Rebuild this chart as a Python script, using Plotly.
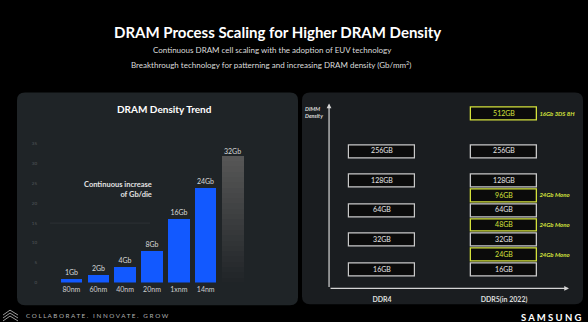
import plotly.graph_objects as go

W, H = 588, 322

# ---- Left chart data: DRAM density trend ----
nodes = ["80nm", "60nm", "40nm", "20nm", "1xnm", "14nm", ""]
density_gb = [1, 2, 4, 8, 16, 24, 32]
density_labels = ["1Gb", "2Gb", "4Gb", "8Gb", "16Gb", "24Gb", "32Gb"]
y_ticks = [0, 5, 10, 15, 20, 25, 30, 35]

# ---- Right chart data: DIMM density ----
ddr4_labels = ["16GB", "32GB", "64GB", "128GB", "256GB"]
ddr4_levels = [0, 1, 2, 3, 4]
ddr5_labels = ["16GB", "24GB", "32GB", "48GB", "64GB", "96GB", "128GB", "256GB", "512GB"]
ddr5_levels = [0, 0.5, 1, 1.5, 2, 2.5, 3, 4, 5.27]
ddr5_new = [False, True, False, True, False, True, False, False, True]
ddr5_notes = ["", "24Gb Mono", "", "24Gb Mono", "", "24Gb Mono", "", "", "16Gb 3DS 8H"]
generations = ["DDR4", "DDR5(in 2022)"]

FONT = "Lato"
BLUE = "#1259ff"
YEL = "#d4e23c"
WHITE_BOX = "#c9c9c9"

def px(x):
    return x / W

def py(y):
    return 1 - y / H

def rounded_rect(x0, y0, x1, y1, r=8):
    rx, ry = r / W, r / H
    X0, X1 = px(x0), px(x1)
    Y0, Y1 = py(y1), py(y0)  # bottom, top in paper
    return (f"M {X0+rx},{Y1} L {X1-rx},{Y1} Q {X1},{Y1} {X1},{Y1-ry} "
            f"L {X1},{Y0+ry} Q {X1},{Y0} {X1-rx},{Y0} L {X0+rx},{Y0} "
            f"Q {X0},{Y0} {X0},{Y0+ry} L {X0},{Y1-ry} Q {X0},{Y1} {X0+rx},{Y1} Z")

fig = go.Figure()

# blue bars
n_blue = 6
fig.add_trace(go.Bar(
    x=list(range(n_blue)), y=density_gb[:n_blue], width=0.8,
    marker=dict(color=BLUE, line=dict(width=0), cornerradius=2),
    text=density_labels[:n_blue], textposition="outside", cliponaxis=False,
    textfont=dict(family=FONT, size=7, color="#d8d8d8"),
    xaxis="x", yaxis="y", showlegend=False, hoverinfo="skip"))

# gradient gray bar (future 32Gb) drawn as stacked segments of one value
seg_n = 24
v = density_gb[6]
top_rgb = (88, 88, 88)
bot_rgb = (32, 36, 39)
seg_h = v / seg_n
bases, heights, colors = [], [], []
for i in range(seg_n):
    t = (i + 0.5) / seg_n
    c = tuple(int(bot_rgb[k] + (top_rgb[k] - bot_rgb[k]) * t) for k in range(3))
    bases.append(i * seg_h)
    heights.append(seg_h)
    colors.append(f"rgb{c}")
fig.add_trace(go.Bar(
    x=[6] * seg_n, y=heights, base=bases, width=0.82,
    marker=dict(color=colors, line=dict(width=0)),
    xaxis="x", yaxis="y", showlegend=False, hoverinfo="skip"))
fig.add_trace(go.Scatter(
    x=[6], y=[v], mode="text", text=[density_labels[6]], textposition="top center",
    textfont=dict(family=FONT, size=7, color="#d8d8d8"), cliponaxis=False,
    xaxis="x", yaxis="y", showlegend=False, hoverinfo="skip"))

# ---- DIMM boxes ----
BOX_H = 0.43
BOX_W = 0.54
fig.add_trace(go.Bar(
    x=[0] * len(ddr4_levels), y=[BOX_H] * len(ddr4_levels),
    base=[l - BOX_H / 2 for l in ddr4_levels], width=BOX_W,
    marker=dict(color="#0b0b0b", line=dict(color=WHITE_BOX, width=1.2)),
    xaxis="x2", yaxis="y2", showlegend=False, hoverinfo="skip"))
fig.add_trace(go.Bar(
    x=[1] * len(ddr5_levels), y=[BOX_H] * len(ddr5_levels),
    base=[l - BOX_H / 2 for l in ddr5_levels], width=BOX_W,
    marker=dict(color="#0b0b0b",
                line=dict(color=[YEL if n else WHITE_BOX for n in ddr5_new], width=1.3)),
    xaxis="x2", yaxis="y2", showlegend=False, hoverinfo="skip"))
fig.add_trace(go.Scatter(
    x=[0] * len(ddr4_levels), y=ddr4_levels, mode="text", text=ddr4_labels,
    textfont=dict(family=FONT, size=7, color="#e6e6e6"),
    xaxis="x2", yaxis="y2", showlegend=False, hoverinfo="skip"))
fig.add_trace(go.Scatter(
    x=[1] * len(ddr5_levels), y=ddr5_levels, mode="text", text=ddr5_labels,
    textfont=dict(family=FONT, size=7, color=[YEL if n else "#e6e6e6" for n in ddr5_new]),
    xaxis="x2", yaxis="y2", showlegend=False, hoverinfo="skip"))
note_lv = [l for l, n in zip(ddr5_levels, ddr5_notes) if n]
note_tx = [f"<i><b>{n}</b></i>" for n in ddr5_notes if n]
fig.add_trace(go.Scatter(
    x=[1.29] * len(note_lv), y=note_lv, mode="text", text=note_tx,
    textposition="middle right", cliponaxis=False,
    textfont=dict(family=FONT, size=6, color=YEL),
    xaxis="x2", yaxis="y2", showlegend=False, hoverinfo="skip"))

shapes = [
    dict(type="path", path=rounded_rect(17, 92, 298, 308), xref="paper", yref="paper",
         fillcolor="#1f2427", line=dict(width=0), layer="below"),
    dict(type="path", path=rounded_rect(302, 92, 583, 307), xref="paper", yref="paper",
         fillcolor="#1a1d20", line=dict(width=0), layer="below"),
    dict(type="line", xref="paper", yref="y", x0=px(50), x1=px(150), y0=15, y1=15,
         line=dict(color="#2b3135", width=1), layer="below"),
]
# small footer logo (stacked chevrons)
for dy in (0, 3, 6):
    shapes.append(dict(type="path", xref="paper", yref="paper",
                       path=f"M {px(3)},{py(318+dy)} L {px(10)},{py(313+dy)} L {px(18)},{py(318+dy)}",
                       line=dict(color="#9a9a9a", width=1)))

AX_X0, AX_X1 = -0.434, 1.533
AX_Y0, AX_Y1 = -0.633, 5.633

def note(text, x, y, size, color, xanchor="center", yanchor="middle", align="center"):
    return dict(text=text, x=px(x), y=py(y), xref="paper", yref="paper",
                xanchor=xanchor, yanchor=yanchor, align=align, showarrow=False,
                font=dict(family=FONT, size=size, color=color))

annotations = [
    note("<b>DRAM Process Scaling for Higher DRAM Density</b>", 277, 30, 15, "#ffffff"),
    note("Continuous DRAM cell scaling with the adoption of EUV technology", 272, 49, 8, "#dcdcdc"),
    note("Breakthrough technology for patterning and increasing DRAM density (Gb/mm<sup>2</sup>)",
         271, 63, 8, "#dcdcdc"),
    note("<b>DRAM Density Trend</b>", 164, 109, 10, "#ffffff"),
    note("<b>Continuous increase<br>of Gb/die</b>", 154, 190, 7.5, "#e2e2e2",
         xanchor="right", align="right"),
    note("<i><b>DIMM<br>Density</b></i>", 303, 112, 5.5, "#dddddd", xanchor="left", align="left"),
    dict(text="", x=AX_X0, y=AX_Y1, ax=AX_X0, ay=AX_Y0, xref="x2", yref="y2",
         axref="x2", ayref="y2", showarrow=True, arrowhead=2, arrowsize=0.8,
         arrowwidth=1.2, arrowcolor="#d4d4d4"),
    dict(text="", x=AX_X1, y=AX_Y0, ax=AX_X0, ay=AX_Y0, xref="x2", yref="y2",
         axref="x2", ayref="y2", showarrow=True, arrowhead=2, arrowsize=0.8,
         arrowwidth=1.2, arrowcolor="#d4d4d4"),
    note("C O L L A B O R A T E .   I N N O V A T E .   G R O W", 24, 318, 6.3, "#b0b0b0",
         xanchor="left"),
    note("<b>S A M S U N G</b>", 584, 313, 9.5, "#ffffff", xanchor="right", yanchor="top"),
]

fig.update_layout(
    width=W, height=H, margin=dict(l=0, r=0, t=0, b=0),
    paper_bgcolor="#000000", plot_bgcolor="rgba(0,0,0,0)",
    barmode="overlay", bargap=0,
    shapes=shapes, annotations=annotations,
    xaxis=dict(domain=[px(58), px(246)], range=[-0.5, 6.5],
               tickvals=list(range(len(nodes))), ticktext=nodes,
               tickfont=dict(family=FONT, size=7, color="#cfcfcf"),
               showgrid=False, zeroline=False, showline=False, ticks="",
               ticklabelstandoff=1, fixedrange=True),
    yaxis=dict(domain=[py(285), py(144)], range=[0, 35], tickvals=y_ticks,
               tickfont=dict(family=FONT, size=4.5, color="#555a5e"),
               showgrid=False, zeroline=False, showline=False, ticks="",
               ticklabelstandoff=20, fixedrange=True),
    xaxis2=dict(domain=[px(321), px(577.2)], range=[-0.5, 1.6], anchor="y2",
                tickvals=[0, 1], ticktext=[f"<b>{g}</b>" for g in generations],
                tickfont=dict(family=FONT, size=7, color="#dddddd"),
                showgrid=False, zeroline=False, showline=False, ticks="",
                ticklabelstandoff=4, fixedrange=True),
    yaxis2=dict(domain=[py(293), py(101)], range=[-0.7, 5.7], anchor="x2",
                showticklabels=False, showgrid=False, zeroline=False,
                showline=False, ticks="", fixedrange=True),
)

fig.write_html("out.html")
